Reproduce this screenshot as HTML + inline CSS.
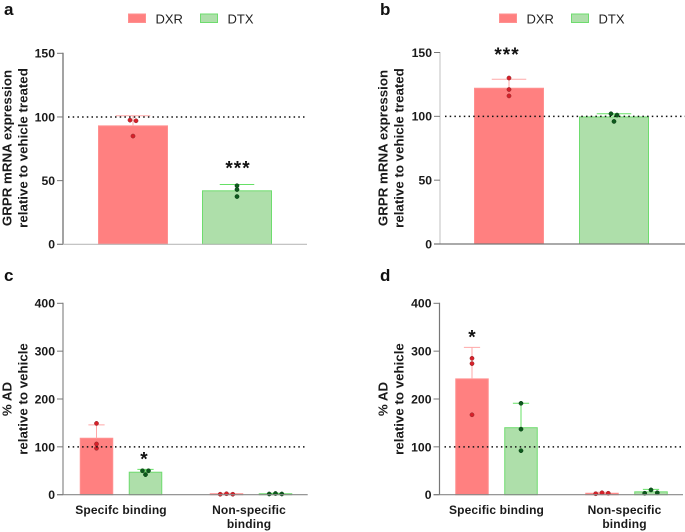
<!DOCTYPE html>
<html lang="en">
<head>
<meta charset="utf-8">
<title>GRPR expression and % AD charts</title>
<style>
html,body{margin:0;padding:0;background:#fff;}
#figure{display:block;width:685px;height:532px;font-family:"Liberation Sans",sans-serif;filter:blur(0.3px);}
</style>
</head>
<body>
<svg id="figure" xmlns="http://www.w3.org/2000/svg" width="685" height="532" viewBox="0 0 685 532"></svg>
<script>
// ---- chart data ----
const seriesNames = ['DXR', 'DTX'];

const aTicks = [0, 50, 100, 150];
const aMeans = [[93], [42]];
const aErrorTops = [[101], [47]];
const aPointsDXR = [[97.5, 97, 85]];
const aPointsDTX = [[46, 43, 37.5]];

const bTicks = [0, 50, 100, 150];
const bMeans = [[122], [99.5]];
const bErrorTops = [[129], [102]];
const bPointsDXR = [[130, 121, 116]];
const bPointsDTX = [[102, 101, 96]];

const cTicks = [0, 100, 200, 300, 400];
const cCategories = ['Specifc binding', 'Non-specific|binding'];
const cMeans = [[118, 2], [47, 2]];
const cErrorTops = [[146, 3], [53, 3]];
const cPointsDXR = [[149, 106, 97], [1, 2, 1]];
const cPointsDTX = [[50, 50, 42], [1.5, 2.5, 1.5]];

const dTicks = [0, 100, 200, 300, 400];
const dCategories = ['Specific binding', 'Non-specific|binding'];
const dMeans = [[242, 3], [140, 6]];
const dErrorTops = [[308, 5], [191, 11]];
const dPointsDXR = [[285, 274, 167], [2, 4, 3]];
const dPointsDTX = [[191, 137, 92], [3, 10, 4]];

const referenceLevel = 100;
// ---- end chart data ----

const NS = 'http://www.w3.org/2000/svg';
const svg = document.getElementById('figure');
const FILL = ['#ff8080', '#aedfaa'];
const EDGE = ['#ff9090', '#6edc6e'];
const WHISK = ['#ffa8a8', '#66e066'];
const DOT = ['#d8202a', '#0c5a1c'];
const DOTEDGE = ['#8a2a2a', '#0a3a14'];

function make(tag, attrs, parent, text) {
  const el = document.createElementNS(NS, tag);
  for (const k in attrs) el.setAttribute(k, attrs[k]);
  if (text !== undefined) el.textContent = text;
  (parent || svg).appendChild(el);
  return el;
}

// spreads points that would overlap, GraphPad-style
function dodge(values, yScale) {
  const order = values.map((v, i) => i).sort((p, q) => values[q] - values[p]);
  const off = values.map(() => 0);
  let cluster = [];
  const flush = () => {
    const sorted = cluster.slice().sort((p, q) => p - q);
    if (sorted.length === 2) { off[sorted[0]] = -3; off[sorted[1]] = 3; }
    if (sorted.length === 3) { off[sorted[0]] = -6.3; off[sorted[2]] = 6.3; }
    cluster = [];
  };
  order.forEach(i => {
    if (cluster.length && Math.abs(yScale(values[i]) - yScale(values[cluster[cluster.length - 1]])) > 3.5) flush();
    cluster.push(i);
  });
  flush();
  return off;
}

function drawPanel(p) {
  const g = make('g', {});
  
  

  const yScale = v => p.y0 - (v / p.ticks[p.ticks.length - 1]) * (p.y0 - p.yTop);
  const xGroup = i => p.x0 + p.step * i;

  const letter = make('text', {x: p.letterX, y: p.letterY, 'font-size': 17, 'font-weight': 700, fill: '#111'}, g, p.letter);
  
  

  // bars, whiskers, points
  p.means.forEach((seriesMeans, s) => {
    seriesMeans.forEach((m, i) => {
      const cx = xGroup(i) + (s === 0 ? -p.offset : p.offset);
      const bar = make('rect', {x: cx - p.barW / 2, y: yScale(m), width: p.barW, height: p.y0 - yScale(m), fill: FILL[s], stroke: EDGE[s], 'stroke-width': 1}, g);
      
      

      const top = yScale(p.tops[s][i]);
      const whisker = make('line', {x1: cx, x2: cx, y1: yScale(m), y2: top, stroke: WHISK[s], 'stroke-width': 1}, g);
      
      
      const cap = make('line', {x1: cx - p.barW / 4, x2: cx + p.barW / 4, y1: top, y2: top, stroke: WHISK[s], 'stroke-width': 1}, g);
      
      

      const vals = p.points[s][i];
      const off = dodge(vals, yScale);
      vals.forEach((v, k) => {
        const pt = make('circle', {cx: cx + off[k], cy: yScale(v), r: 2.1, fill: DOT[s], stroke: DOTEDGE[s], 'stroke-width': 0.5}, g);
        
        
      });
    });
  });

  // reference line
  const ref = make('line', {x1: p.xAxis + 5, x2: p.xEnd, y1: yScale(referenceLevel), y2: yScale(referenceLevel), stroke: '#111', 'stroke-width': 1.5, 'stroke-dasharray': '1.5 3.2'}, g);
  
  

  // axes
  const yAxis = make('line', {x1: p.xAxis, x2: p.xAxis, y1: p.yTop - 0.5, y2: p.y0, stroke: p.yAxisColor, 'stroke-width': 1.2}, g);
  
  
  const xAxis = make('line', {x1: p.xAxis - 6, x2: p.xEnd, y1: p.y0, y2: p.y0, stroke: p.xAxisColor, 'stroke-width': 1.2}, g);
  
  

  p.ticks.forEach(t => {
    const tick = make('line', {x1: p.xAxis - 6, x2: p.xAxis, y1: yScale(t), y2: yScale(t), stroke: '#777', 'stroke-width': 1}, g);
    
    
    const label = make('text', {x: p.xAxis - 8, y: yScale(t) + 4.4, 'text-anchor': 'end', 'font-size': 12.2, 'font-weight': 700, fill: '#1a1a1a'}, g, String(t));
    
    
  });

  // y title
  p.title.forEach((line, i) => {
    const tx = p.titleX + i * 16;
    const title = make('text', {x: tx, y: p.titleY, transform: 'rotate(-90 ' + tx + ' ' + p.titleY + ')', 'text-anchor': 'middle', 'font-size': 13.3, 'font-weight': 700, fill: '#1a1a1a'}, g, line);
    
    
  });

  // category labels
  (p.categories || []).forEach((c, i) => {
    c.split('|').forEach((line, k) => {
      const label = make('text', {x: xGroup(i) - i * 2, y: 514 + k * 14, 'text-anchor': 'middle', 'font-size': 12, 'font-weight': 700, fill: '#1a1a1a', 'letter-spacing': 0.15}, g, line);
      
      
    });
  });

  // significance stars
  const star = make('text', {x: p.starX, y: yScale(p.starValue) + 8.5, 'text-anchor': 'middle', 'font-size': 19, 'font-weight': 700, 'letter-spacing': p.stars.length > 1 ? 1 : 0, fill: '#111'}, g, p.stars);
  
  

  // legend
  if (p.legendX) {
    seriesNames.forEach((name, s) => {
      const lx = p.legendX + s * 72;
      const swatch = make('rect', {x: lx, y: 14, width: 17, height: 8.5, fill: FILL[s], stroke: EDGE[s], 'stroke-width': 1}, g);
      
      
      const text = make('text', {x: lx + 27, y: 23.5, 'font-size': 13, fill: '#222'}, g, name);
      
      
    });
  }
}

drawPanel({
  letter: 'a', letterX: 4, letterY: 15, ticks: aTicks, means: aMeans, tops: aErrorTops,
  points: [aPointsDXR, aPointsDTX],
  xAxis: 63, xEnd: 307, yTop: 53.3, y0: 244.3, x0: 185, step: 0, offset: 52, barW: 69,
  title: ['GRPR mRNA expression', 'relative to vehicle treated'], titleX: 11.5, titleY: 148,
  stars: '***', starX: 238, starValue: 61.5, legendX: 128.5,
  yAxisColor: '#666', xAxisColor: '#bbb'
});
drawPanel({
  letter: 'b', letterX: 380, letterY: 15, ticks: bTicks, means: bMeans, tops: bErrorTops,
  points: [bPointsDXR, bPointsDTX],
  xAxis: 440, xEnd: 685, yTop: 52.5, y0: 244, x0: 561.5, step: 0, offset: 52.5, barW: 69,
  title: ['GRPR mRNA expression', 'relative to vehicle treated'], titleX: 387.5, titleY: 148,
  stars: '***', starX: 507, starValue: 150, legendX: 499.5,
  yAxisColor: '#ccc', xAxisColor: '#777'
});
drawPanel({
  letter: 'c', letterX: 4, letterY: 281, ticks: cTicks, means: cMeans, tops: cErrorTops,
  points: [cPointsDXR, cPointsDTX],
  categories: cCategories,
  xAxis: 63, xEnd: 307.7, yTop: 303.3, y0: 494.7, x0: 121, step: 130, offset: 24.5, barW: 32.5,
  title: ['% AD', 'relative to vehicle'], titleX: 11.5, titleY: 399,
  stars: '*', starX: 144, starValue: 79,
  yAxisColor: '#888', xAxisColor: '#888'
});
drawPanel({
  letter: 'd', letterX: 380, letterY: 281, ticks: dTicks, means: dMeans, tops: dErrorTops,
  points: [dPointsDXR, dPointsDTX],
  categories: dCategories,
  xAxis: 439.5, xEnd: 683, yTop: 303.3, y0: 494.7, x0: 496.5, step: 130, offset: 24.5, barW: 32.5,
  title: ['% AD', 'relative to vehicle'], titleX: 387.5, titleY: 399,
  stars: '*', starX: 472, starValue: 334,
  yAxisColor: '#777', xAxisColor: '#888'
});
</script>
</body>
</html>
